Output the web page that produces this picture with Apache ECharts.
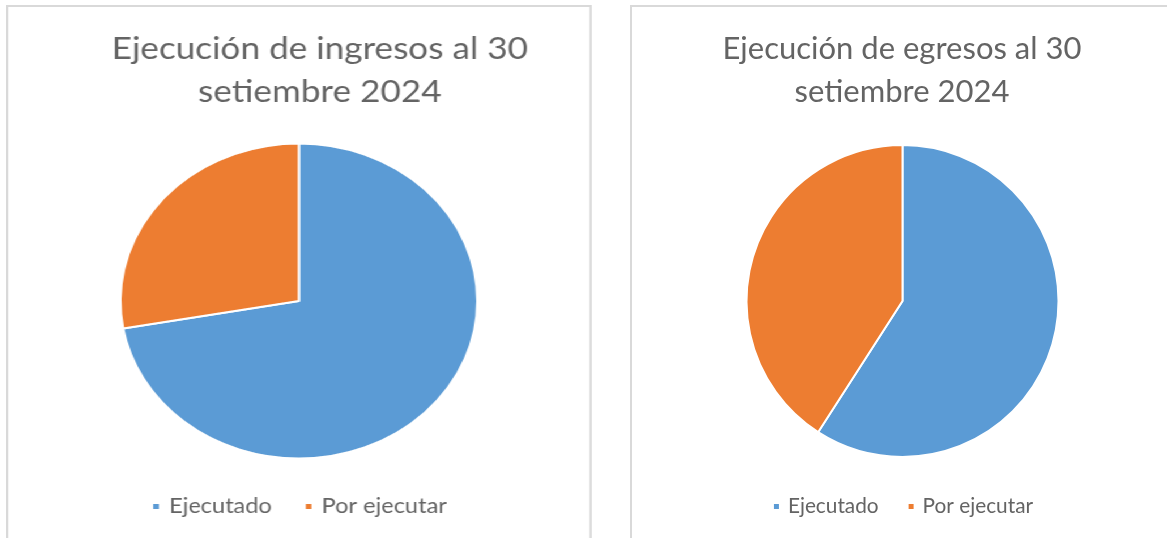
<!DOCTYPE html>
<html>
<head>
<meta charset="utf-8">
<script src="https://cdn.jsdelivr.net/npm/echarts@6/dist/echarts.min.js"></script>
<style>
  html, body { margin: 0; padding: 0; width: 1167px; height: 538px; overflow: hidden; background: #fff; }
  .panel { position: absolute; top: 5px; height: 560px; border: 2px solid #d9d9d9; box-sizing: border-box; background: #fff; }
  .panel .bd { width: 100%; height: 100%; }
  #left { left: 6px; width: 517px; transform: scaleX(1.133); transform-origin: 0 0; }
  #right { left: 630px; width: 545px; }
</style>
</head>
<body>
<div class="panel" id="left"><div class="bd"></div></div>
<div class="panel" id="right"><div class="bd"></div></div>
<script>
var categories = ['Ejecutado', 'Por ejecutar']
var ingresos = [72.2, 27.8]
var egresos = [59.1, 40.9]
var titleIngresos = 'Ejecución de ingresos al 30\nsetiembre 2024'
var titleEgresos = 'Ejecución de egresos al 30\nsetiembre 2024'
var colors = ['#5b9bd5', '#ed7d31']

function makeOption(title, values, radius, titleX) {
  return {
    animation: false,
    color: colors,
    title: {
      text: title,
      left: titleX,
      textAlign: 'center',
      top: 20,
      padding: 0,
      textStyle: {
        fontFamily: 'Lato',
        fontSize: 31,
        fontWeight: 'normal',
        color: '#646464',
        lineHeight: 43,
        align: 'center'
      }
    },
    legend: {
      data: categories,
      left: 'center',
      top: 489,
      padding: 0,
      icon: 'rect',
      itemWidth: 7,
      itemHeight: 7,
      itemGap: 28,
      textStyle: { fontFamily: 'Lato', fontSize: 20.8, color: '#646464', padding: [0, 0, 0, 3] }
    },
    series: [{
      type: 'pie',
      center: ['50%', 294],
      radius: radius,
      startAngle: 90,
      clockwise: true,
      silent: true,
      label: { show: false },
      labelLine: { show: false },
      itemStyle: { borderColor: '#fff', borderWidth: 2 },
      data: categories.map(function (c, i) { return { name: c, value: values[i] } })
    }]
  }
}

var chartL = echarts.init(document.querySelector('#left .bd'))
chartL.setOption(makeOption(titleIngresos, ingresos, 157.5, 275))

var chartR = echarts.init(document.querySelector('#right .bd'))
chartR.setOption(makeOption(titleEgresos, egresos, 156, 270))
</script>
</body>
</html>
